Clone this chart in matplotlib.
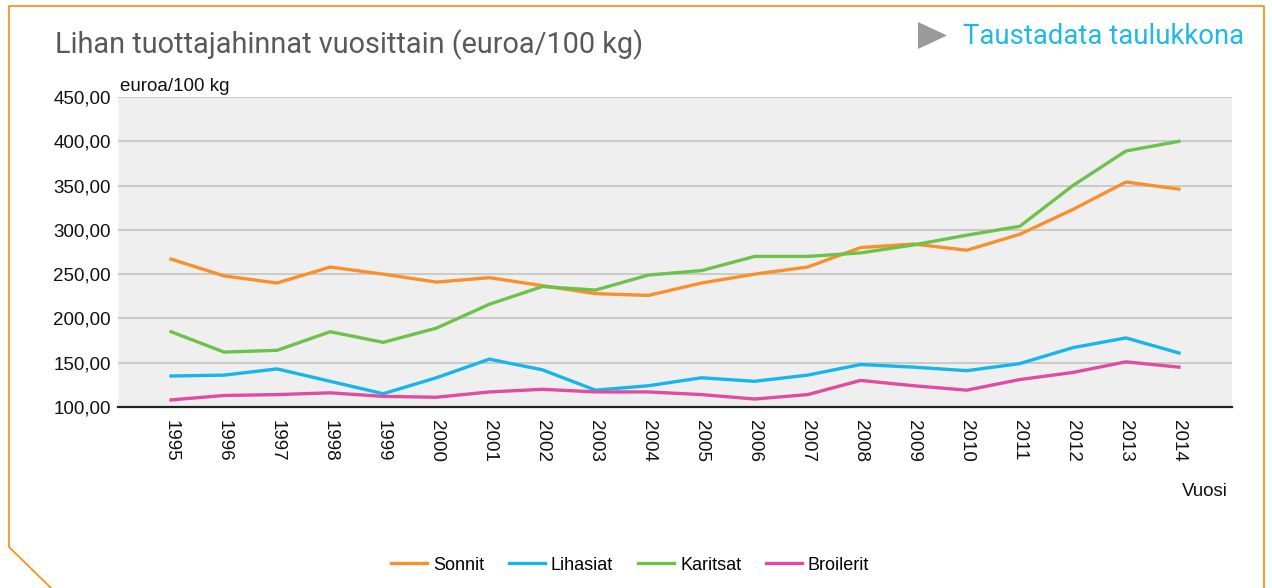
import matplotlib
matplotlib.use("Agg")
import matplotlib.pyplot as plt
from matplotlib.lines import Line2D
from matplotlib.patches import Polygon

years = list(range(1995, 2015))
sonnit = [267, 248, 240, 258, 250, 241, 246, 237, 228, 226,
          240, 250, 258, 280, 284, 277, 295, 323, 354, 346]
lihasiat = [135, 136, 143, 129, 115, 133, 154, 142, 119, 124,
            133, 129, 136, 148, 145, 141, 149, 167, 178, 161]
karitsat = [185, 162, 164, 185, 173, 189, 216, 236, 232, 249,
            254, 270, 270, 274, 283, 294, 304, 350, 389, 400]
broilerit = [108, 113, 114, 116, 112, 111, 117, 120, 117, 117,
             114, 109, 114, 130, 124, 119, 131, 139, 151, 145]
y_ticks = [100, 150, 200, 250, 300, 350, 400, 450]
y_labels = [f"{v:.2f}".replace(".", ",") for v in y_ticks]

series = [("Sonnit", sonnit, "#f7902d"),
          ("Lihasiat", lihasiat, "#16b6ea"),
          ("Karitsat", karitsat, "#6cc24a"),
          ("Broilerit", broilerit, "#e04ca0")]

plt.rcParams["font.family"] = ["Liberation Sans", "DejaVu Sans"]
fs = 13.5

fig = plt.figure(figsize=(12.72, 5.88), dpi=100)
ax = fig.add_axes([118 / 1272, 1 - 407 / 588, (1232 - 118) / 1272, 310 / 588])
ax.set_facecolor("#efefef")

for name, vals, col in series:
    ax.plot(years, vals, color=col, lw=2.4, label=name)

ax.set_xlim(1994, 2015)
ax.set_ylim(100, 450)
ax.set_yticks(y_ticks)
ax.set_yticklabels(y_labels)
ax.set_xticks(years)
ax.set_xticklabels([str(y) for y in years], rotation=-90, va="top")
ax.tick_params(axis="both", length=0, labelsize=fs, colors="#111111")
ax.tick_params(axis="y", pad=5)
ax.tick_params(axis="x", pad=9)
ax.grid(axis="y", color="#c4c4c4", lw=1.2)
ax.set_axisbelow(True)
for s in ["left", "right", "top"]:
    ax.spines[s].set_visible(False)
ax.spines["bottom"].set_color("#222222")
ax.spines["bottom"].set_linewidth(1.6)
ax.spines["bottom"].set_zorder(5)

fig.text(120 / 1272, 1 - 86 / 588, "euroa/100 kg", fontsize=fs, ha="left", va="center", color="#111111")
fig.text(1228 / 1272, 1 - 491 / 588, "Vuosi", fontsize=fs, ha="right", va="center", color="#111111")

fig.text(55 / 1272, 1 - 45 / 588, "Lihan tuottajahinnat vuosittain (euroa/100 kg)",
         fontsize=20.8, family=["Roboto", "DejaVu Sans"], color="#58595b", ha="left", va="center")
fig.text(963 / 1272, 1 - 36 / 588, "Taustadata taulukkona",
         fontsize=19.8, family=["Roboto", "DejaVu Sans"], color="#1fb9e3", ha="left", va="center")
tri = Polygon([(918 / 1272, 1 - 22 / 588), (918 / 1272, 1 - 49 / 588), (947 / 1272, 1 - 35.5 / 588)],
              closed=True, transform=fig.transFigure, color="#9a9a9a", lw=0)
fig.patches.append(tri)

frame_x = [51, 9, 9, 1264, 1264]
frame_y = [588, 547, 6, 6, 588]
fig.lines.append(Line2D([x / 1272 for x in frame_x], [1 - y / 588 for y in frame_y],
                        transform=fig.transFigure, color="#f7941d", lw=1.3))

fig.legend(loc="center", bbox_to_anchor=(630 / 1272, 1 - 565 / 588), ncol=4, frameon=False,
           fontsize=13, handlelength=2.0, handletextpad=0.35, columnspacing=1.35)

fig.savefig("out.png", dpi=100)
